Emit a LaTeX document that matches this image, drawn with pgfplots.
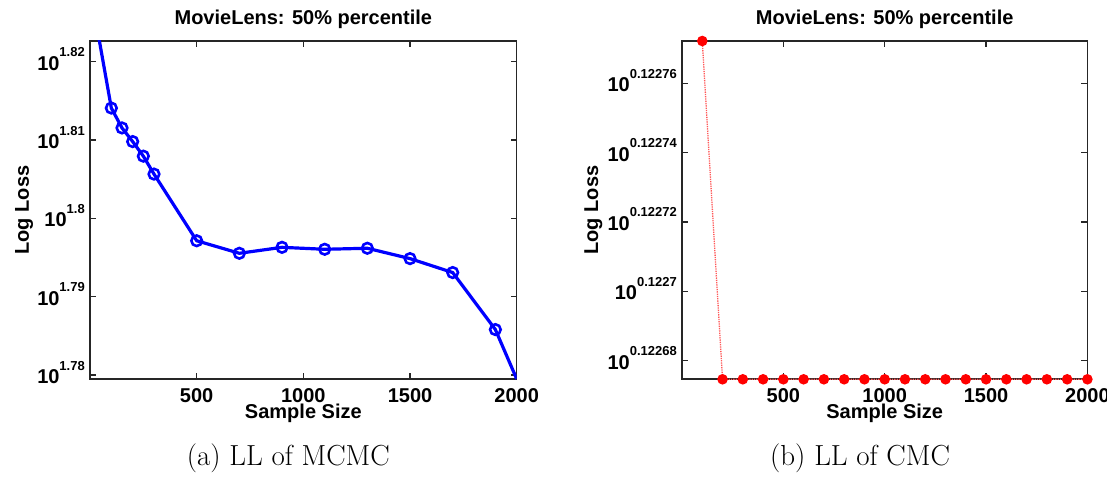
\documentclass[border=0pt]{standalone}
\usepackage{pgfplots}
\pgfplotsset{compat=1.18}
\usepackage{fontspec}
\newfontfamily\hv{Liberation Sans}
\newcommand\tf{\hv\bfseries\fontsize{20}{24}\selectfont}
\newcommand\ex[1]{10\raisebox{13.5pt}{\fontsize{13}{13}\selectfont #1}}
\pgfplotsset{
 mystyle/.style={
  scale only axis,
  axis line style={line width=1.5pt, black!85},
  tick style={line width=1.2pt, black!85},
  major tick length=6pt,
  tick align=inside,
  xtick={500,1000,1500,2000},
  xticklabels={500,1000,1500,2000},
  xmin=0, xmax=2000,
  ticklabel style={font=\tf},
  xticklabel style={anchor=base, inner sep=0pt, yshift=-23pt},
  yticklabel style={anchor=base east, inner sep=0pt, xshift=-5pt, yshift=-8.5pt},
  title style={font=\tf, at={(rel axis cs:0.5,1)}, anchor=base, yshift=10pt},
  xlabel style={font=\tf, inner sep=0pt, at={(rel axis cs:0.5,0)}, anchor=base, yshift=-39.6pt},
  ylabel style={font=\tf, anchor=center},
  title={MovieLens: 50\% percentile},
  xlabel={Sample Size},
  ylabel={Log Loss},
 }
}
\begin{document}
\begin{tikzpicture}
\useasboundingbox (0,0) rectangle (1107pt,479pt);
\begin{axis}[mystyle,
  at={(90pt,100pt)}, anchor=south west,
  width=426.7pt, height=338pt,
  ymin=1.77949, ymax=1.82264,
  ytick={1.78,1.79,1.8,1.81,1.82},
  yticklabels={\ex{1.78},\ex{1.79},\ex{1.8},\ex{1.81},\ex{1.82}},
  ylabel style={at={([xshift=-66pt]rel axis cs:0,0.5)}},
]
\addplot[blue, line width=3.2pt, mark=o, mark size=5.3pt, mark indices={1,...,13},
  mark options={line width=2.6pt}] coordinates {
(0,1.8294) (100,1.81408) (150,1.81154) (200,1.80980) (250,1.80794) (300,1.80565)
(500,1.79714) (700,1.79554) (900,1.79630) (1100,1.79605) (1300,1.79618)
(1500,1.79486) (1700,1.79308) (1900,1.78580) (2000,1.77949)};
\end{axis}
\begin{axis}[mystyle,
  at={(682pt,99.7pt)}, anchor=south west,
  width=405.4pt, height=338.3pt,
  axis line style={line width=1.7pt, black!85},
  ymin=0.1226746, ymax=0.1227722,
  ytick={0.12268,0.1227,0.12272,0.12274,0.12276},
  yticklabels={\ex{0.12268},\ex{0.1227},\ex{0.12272},\ex{0.12274},\ex{0.12276}},
  ylabel style={at={([xshift=-88.7pt]rel axis cs:0,0.5)}},
]
\addplot[red!65, line width=1.3pt, densely dotted, mark=*, mark size=4.6pt,
  mark options={solid, fill=red, draw=red}] coordinates {
(100,0.1227722) (200,0.1226746) (300,0.1226746) (400,0.1226746) (500,0.1226746)
(600,0.1226746) (700,0.1226746) (800,0.1226746) (900,0.1226746) (1000,0.1226746)
(1100,0.1226746) (1200,0.1226746) (1300,0.1226746) (1400,0.1226746) (1500,0.1226746)
(1600,0.1226746) (1700,0.1226746) (1800,0.1226746) (1900,0.1226746) (2000,0.1226746)};
\end{axis}
\node[font=\fontsize{29}{32}\selectfont, anchor=base] at (288.3pt,14pt) {(a) LL of MCMC};
\node[font=\fontsize{29}{32}\selectfont, anchor=base] at (860pt,14pt) {(b) LL of CMC};
\end{tikzpicture}
\end{document}
